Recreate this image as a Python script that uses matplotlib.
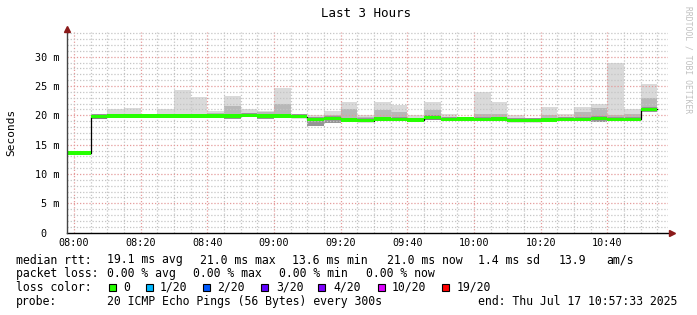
import numpy as np
import matplotlib
matplotlib.use("Agg")
import matplotlib.pyplot as plt

plt.rcParams['font.family'] = ['DejaVu Sans Mono']

# 5 minute bins, start minute relative to 08:00
bin_start = list(range(-5, 175, 5))

# median rtt per bin (ms)
median = [13.6, 13.6, 19.8, 19.9, 19.9, 19.9, 19.9, 19.9, 19.9, 19.9, 19.9, 20.0, 19.9,
          19.9, 19.8, 19.3, 19.5, 19.2, 19.1, 19.4, 19.3, 19.2, 19.6, 19.3, 19.4,
          19.3, 19.4, 19.1, 19.1, 19.2, 19.3, 19.3, 19.5, 19.3, 19.3, 21.0]
# top of the smoke (slowest ping)
smoke_hi = [13.8, 13.8, 20.2, 21.0, 21.3, 20.2, 21.0, 24.4, 23.1, 20.8, 23.3, 21.0, 20.8,
            24.7, 20.1, 20.0, 20.7, 22.3, 20.0, 22.3, 21.8, 20.0, 22.3, 20.2, 19.7,
            23.9, 22.3, 20.0, 19.6, 21.4, 20.2, 21.5, 22.0, 29.0, 21.0, 25.3]
# top of the denser part of the smoke
smoke_mid = [13.7, 13.7, 20.0, 20.3, 20.2, 20.0, 20.1, 20.3, 20.2, 20.4, 21.6, 20.3, 20.6,
             22.0, 20.0, 19.8, 20.1, 21.0, 19.7, 20.9, 20.5, 19.6, 20.9, 19.8, 19.6,
             20.2, 20.2, 19.6, 19.3, 20.1, 19.8, 20.6, 21.3, 20.0, 20.2, 23.0]
# bottom of the smoke (fastest ping)
smoke_lo = [13.4, 13.4, 19.4, 19.6, 19.6, 19.7, 19.7, 19.7, 19.6, 19.5, 19.4, 19.7, 19.4,
            19.6, 19.6, 18.1, 18.7, 19.0, 19.0, 19.1, 19.1, 19.0, 19.2, 19.0, 19.1,
            19.1, 19.1, 18.9, 18.9, 19.0, 19.0, 19.0, 18.9, 19.1, 19.0, 20.5]

xtick_pos = [0, 20, 40, 60, 80, 100, 120, 140, 160]
xtick_lab = ['08:00', '08:20', '08:40', '09:00', '09:20', '09:40', '10:00', '10:20', '10:40']
ytick_pos = [0, 5, 10, 15, 20, 25, 30]
ytick_lab = ['0  ', '5 m', '10 m', '15 m', '20 m', '25 m', '30 m']

loss_labels = ['0', '1/20', '2/20', '3/20', '4/20', '10/20', '19/20']
loss_colors = ['#26ff00', '#00b8ff', '#0059ff', '#5e00ff', '#7e00ff', '#dd00ff', '#ff0000']

W, H = 697, 315
fig = plt.figure(figsize=(W / 100, H / 100), dpi=100)
ax = fig.add_axes([66.5 / W, (H - 232.7) / H, (668 - 66.5) / W, (232.7 - 31.7) / H])

bs = np.array(bin_start, dtype=float)
med = np.array(median)
hi = np.array(smoke_hi)
mid = np.array(smoke_mid)
lo = np.array(smoke_lo)

# smoke
ax.bar(bs, hi - lo, bottom=lo, width=5, align='edge', color='#dadada', lw=0, zorder=1)
ax.bar(bs, mid - lo, bottom=lo, width=5, align='edge', color='#b8b8b8', lw=0, zorder=2)
ax.bar(bs, med + 0.4 - lo, bottom=lo, width=5, align='edge', color='#959595', lw=0, zorder=3)

# grid on top of smoke
for m in np.arange(0, 180, 5):
    major = m % 20 == 0
    ax.axvline(m, color='#e49a9a' if major else '#c4c4c4', lw=0.9,
               ls=(0, (1, 1.5)), zorder=4)
for v in np.arange(1, 35, 1):
    major = v % 5 == 0
    ax.axhline(v, color='#e49a9a' if major else '#c4c4c4', lw=0.9,
               ls=(0, (1, 1.5)), zorder=4)

# median line
edges = np.append(bs, bs[-1] + 5)
ax.step(edges, np.append(med, med[-1]), where='post', color='black', lw=0.9, zorder=5)
ax.bar(bs, 0.58, bottom=med - 0.3, width=5, align='edge', color=loss_colors[0], lw=0, zorder=6)

ax.set_xlim(-2.25, 178.2)
ax.set_ylim(0, 34.25)
ax.set_xticks(xtick_pos)
ax.set_xticklabels(xtick_lab)
ax.set_yticks(ytick_pos)
ax.set_yticklabels(ytick_lab)
ax.tick_params(axis='both', length=0, labelsize=7.3, colors='black')
ax.tick_params(axis='x', pad=4)
ax.tick_params(axis='y', pad=5)
for s in ax.spines.values():
    s.set_visible(False)

# axes with arrows
ax.plot([0, 1.006], [0, 0], transform=ax.transAxes, color='black', lw=1, clip_on=False, zorder=7)
ax.plot([0, 0], [0, 1.01], transform=ax.transAxes, color='#444444', lw=1, clip_on=False, zorder=7)
ax.plot([1.007], [0], transform=ax.transAxes, marker='>', ms=4, color='#8b1a1a', clip_on=False, zorder=8)
ax.plot([0], [1.015], transform=ax.transAxes, marker='^', ms=4, color='#8b1a1a', clip_on=False, zorder=8)

ax.set_ylabel('Seconds', fontsize=8)
ax.yaxis.set_label_coords(-50 / (668 - 66.5), 0.5)

fig.text(366 / W, 1 - 13.5 / H, 'Last 3 Hours', ha='center', va='center', fontsize=9)
fig.text(688 / W, 1 - 60 / H, 'RRDTOOL / TOBI OETIKER', rotation=270, ha='center',
         va='center', fontsize=5.8, color='#c0c0c0')


def put(x, y, s, **kw):
    fig.text(x / W, 1 - y / H, s, ha='left', va='center', fontsize=8.3, **kw)


row1 = [(16, 'median rtt:'), (107, '19.1 ms avg'), (200, '21.0 ms max'), (292, '13.6 ms min'),
        (386.7, '21.0 ms now'), (478.3, '1.4 ms sd'), (558.3, '13.9'), (606.7, 'am/s')]
row2 = [(16, 'packet loss:'), (107, '0.00 % avg'), (193.3, '0.00 % max'),
        (279.3, '0.00 % min'), (366, '0.00 % now')]
for x, s in row1:
    put(x, 260, s)
for x, s in row2:
    put(x, 273.5, s)

put(16, 287.5, 'loss color:')
sq_x = [109, 145.7, 203.3, 260.7, 318.3, 377.7, 442.3]
lab_x = [123.3, 160, 217.3, 276, 333.3, 391.7, 456.7]
for sx, lx, c, l in zip(sq_x, lab_x, loss_colors, loss_labels):
    fig.patches.append(plt.Rectangle((sx / W, 1 - 291 / H), 7 / W, 7 / H, transform=fig.transFigure,
                                     facecolor=c, edgecolor='black', lw=0.8))
    put(lx, 287.5, l)

put(16, 301.5, 'probe:')
put(107, 301.5, '20 ICMP Echo Pings (56 Bytes) every 300s')
put(478.3, 301.5, 'end: Thu Jul 17 10:57:33 2025')

fig.savefig('out.png', dpi=100, facecolor='white')
